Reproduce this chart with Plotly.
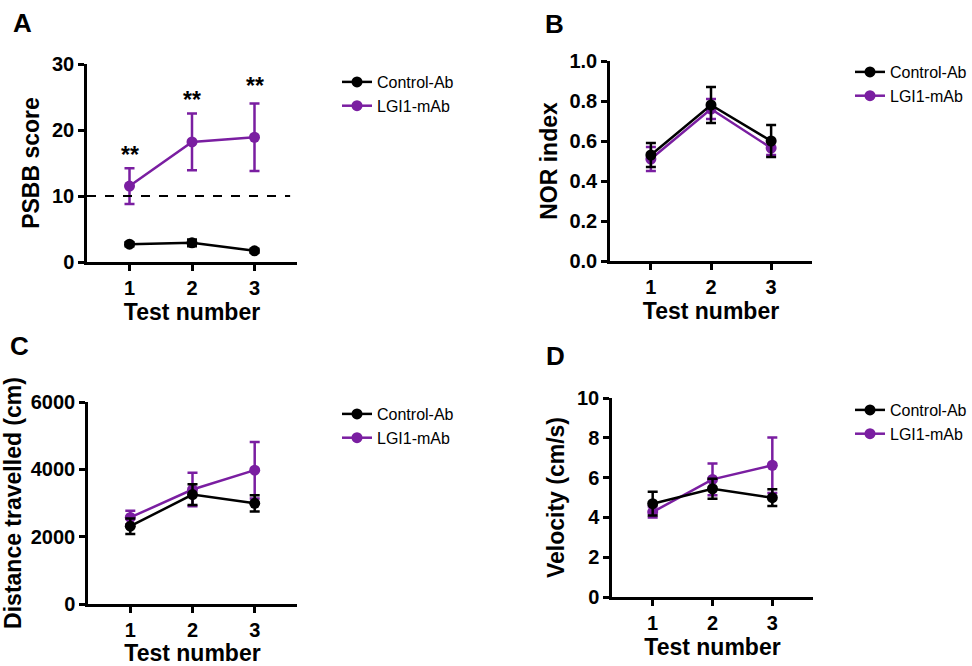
import plotly.graph_objects as go

tests = [1, 2, 3]
groups = ["Control-Ab", "LGI1-mAb"]
colors = {"Control-Ab": "#000000", "LGI1-mAb": "#7A1EA1"}

# Panel A: PSBB score
psbb_ctrl = [2.7, 2.9, 1.7]
psbb_ctrl_err = [0.3, 0.5, 0.3]
psbb_lgi = [11.5, 18.2, 18.9]
psbb_lgi_err = [2.7, 4.3, 5.1]
psbb_threshold = 10
star_y = [16.2, 24.5, 26.7]
star_text = ["**", "**", "**"]

# Panel B: NOR index
nor_ctrl = [0.53, 0.78, 0.60]
nor_ctrl_err = [0.06, 0.09, 0.08]
nor_lgi = [0.51, 0.76, 0.565]
nor_lgi_err = [0.06, 0.05, 0.035]

# Panel C: distance travelled (cm)
dist_ctrl = [2310, 3250, 2990]
dist_ctrl_err = [230, 310, 240]
dist_lgi = [2570, 3400, 3975]
dist_lgi_err = [200, 500, 840]

# Panel D: velocity (cm/s)
vel_ctrl = [4.69, 5.44, 4.99]
vel_ctrl_err = [0.6, 0.5, 0.42]
vel_lgi = [4.27, 5.91, 6.62]
vel_lgi_err = [0.28, 0.8, 1.4]

panels = [
    dict(ax="", ctrl=psbb_ctrl, ce=psbb_ctrl_err, lgi=psbb_lgi, le=psbb_lgi_err,
         yrange=[0, 30], dtick=10, ytitle="PSBB score", legend="legend",
         xdom=[87, 297], ydom=[262, 64]),
    dict(ax="2", ctrl=nor_ctrl, ce=nor_ctrl_err, lgi=nor_lgi, le=nor_lgi_err,
         yrange=[0, 1.0], dtick=0.2, ytitle="NOR index", legend="legend2",
         xdom=[610, 812], ydom=[261, 61], tickformat=".1f"),
    dict(ax="3", ctrl=dist_ctrl, ce=dist_ctrl_err, lgi=dist_lgi, le=dist_lgi_err,
         yrange=[0, 6000], dtick=2000, ytitle="Distance travelled (cm)", legend="legend3",
         xdom=[88, 297], ydom=[604, 402]),
    dict(ax="4", ctrl=vel_ctrl, ce=vel_ctrl_err, lgi=vel_lgi, le=vel_lgi_err,
         yrange=[0, 10], dtick=2, ytitle="Velocity (cm/s)", legend="legend4",
         xdom=[612, 813], ydom=[597, 398]),
]

W, H = 972, 666
FONT = "Arial, Liberation Sans, sans-serif"
LW = 2.5

fig = go.Figure()
layout = dict(
    width=W, height=H, margin=dict(l=0, r=0, t=0, b=0, autoexpand=False),
    paper_bgcolor="white", plot_bgcolor="white",
    font=dict(family=FONT, color="black"),
    shapes=[], annotations=[],
)

legend_pos = {
    "legend": (337, 65),
    "legend2": (850, 55),
    "legend3": (337, 397),
    "legend4": (850, 393),
}

for p in panels:
    ax = p["ax"]
    xa = "x" + ax
    ya = "y" + ax
    for g, vals, errs in [("LGI1-mAb", p["lgi"], p["le"]), ("Control-Ab", p["ctrl"], p["ce"])]:
        fig.add_trace(go.Scatter(
            x=tests, y=vals, name=g, xaxis=xa, yaxis=ya,
            mode="lines+markers",
            line=dict(color=colors[g], width=LW),
            marker=dict(color=colors[g], size=11, symbol="circle"),
            error_y=dict(type="data", array=errs, visible=True, color=colors[g],
                         thickness=LW, width=5),
            legend=p["legend"], showlegend=True,
            legendrank=2 if g == "LGI1-mAb" else 1,
        ))
    x0, x1 = p["xdom"]
    yb, yt = p["ydom"]
    layout["xaxis" + ax] = dict(
        domain=[x0 / W, x1 / W], range=[0.32, 3.68], anchor=ya,
        tickmode="array", tickvals=tests, ticktext=[str(t) for t in tests],
        showline=True, linewidth=LW, linecolor="black", mirror=False,
        ticks="outside", ticklen=6, tickwidth=LW, tickcolor="black",
        showgrid=False, zeroline=False,
        tickfont=dict(size=20, family=FONT, weight="bold", color="black"),
        title=dict(text="Test number", standoff=2,
                   font=dict(size=23, family=FONT, weight="bold", color="black")),
    )
    yd = dict(
        domain=[1 - yb / H, 1 - yt / H], range=p["yrange"], anchor=xa,
        dtick=p["dtick"], tick0=0,
        showline=True, linewidth=LW, linecolor="black",
        ticks="outside", ticklen=6, tickwidth=LW, tickcolor="black",
        showgrid=False, zeroline=False,
        tickfont=dict(size=20, family=FONT, weight="bold", color="black"),
        title=dict(text=p["ytitle"], standoff=6,
                   font=dict(size=23, family=FONT, weight="bold", color="black")),
    )
    if "tickformat" in p:
        yd["tickformat"] = p["tickformat"]
    layout["yaxis" + ax] = yd
    lx, ly = legend_pos[p["legend"]]
    layout[p["legend"]] = dict(
        x=lx / W, y=1 - ly / H, xanchor="left", yanchor="top",
        font=dict(size=16, family=FONT, color="black"),
        bgcolor="rgba(0,0,0,0)", tracegroupgap=0, itemwidth=30,
        traceorder="normal",
    )

# dashed threshold line in panel A
layout["shapes"].append(dict(
    type="line", xref="x", yref="y", x0=0.32, x1=3.57,
    y0=psbb_threshold, y1=psbb_threshold,
    line=dict(color="black", width=1.8, dash="dash"),
))

# significance stars
for xi, yi, tx in zip(tests, star_y, star_text):
    layout["annotations"].append(dict(
        x=xi, y=yi, xref="x", yref="y", text=tx, showarrow=False,
        font=dict(size=23, family=FONT, weight="bold", color="black"),
        yanchor="middle",
    ))

# panel letters
for letter, (px, py) in zip(["A", "B", "C", "D"], [(22, 23), (554, 24), (19, 346), (555, 356)]):
    layout["annotations"].append(dict(
        x=px / W, y=1 - py / H, xref="paper", yref="paper", text=letter,
        showarrow=False, xanchor="center", yanchor="middle",
        font=dict(size=26, family=FONT, weight="bold", color="black"),
    ))

fig.update_layout(**layout)
fig.write_html("out.html",
               config={"displayModeBar": False},
               post_script="document.body.style.margin='0';document.body.style.overflow='hidden';")
